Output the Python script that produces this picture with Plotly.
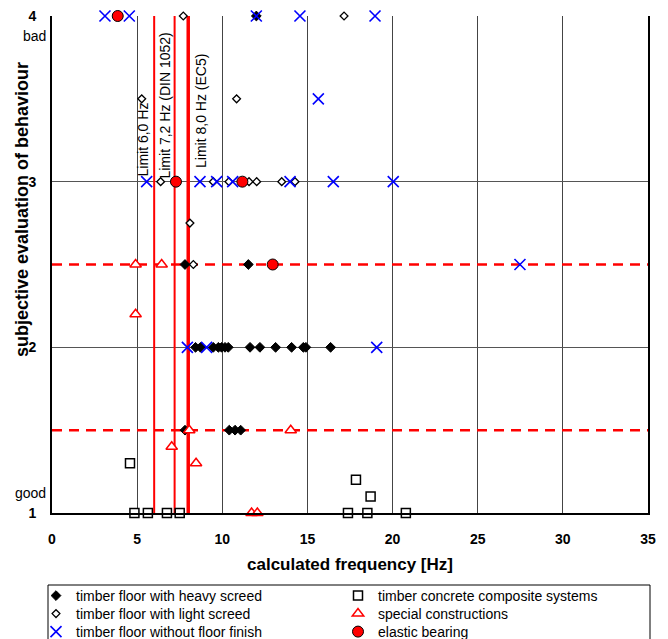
import plotly.graph_objects as go

# ---- data ----
heavy_x = [12.0, 7.81, 11.53, 8.43, 8.72, 9.47, 9.77, 9.96, 10.16, 10.35, 11.63, 12.21, 13.13, 14.07, 14.76, 14.91, 16.36, 7.81, 10.41, 10.75, 11.08]
heavy_y = [4, 2.5, 2.5, 2, 2, 2, 2, 2, 2, 2, 2, 2, 2, 2, 2, 2, 2, 1.5, 1.5, 1.5, 1.5]

light_x = [7.71, 17.15, 5.27, 10.84, 6.38, 9.47, 10.39, 11.57, 12.02, 13.49, 14.27, 8.1, 8.3]
light_y = [4, 4, 3.5, 3.5, 3, 3, 3, 3, 3, 3, 3, 2.75, 2.5]

nofinish_x = [3.11, 4.54, 12.0, 14.56, 18.97, 15.64, 5.56, 8.69, 9.67, 10.61, 13.98, 16.52, 20.04, 27.48, 7.95, 9.08, 19.07]
nofinish_y = [4, 4, 4, 4, 4, 3.5, 3, 3, 3, 3, 3, 3, 3, 2.5, 2, 2, 2]

tcc_x = [4.58, 4.84, 5.63, 6.75, 7.50, 17.38, 18.52, 20.78, 17.85, 18.71]
tcc_y = [1.3, 1, 1, 1, 1, 1, 1, 1, 1.2, 1.1]

special_x = [4.91, 6.44, 4.91, 8.06, 7.03, 8.46, 14.02, 11.72, 12.06]
special_y = [2.5, 2.5, 2.2, 1.5, 1.4, 1.3, 1.5, 1, 1]

elastic_x = [3.86, 7.28, 11.18, 12.96]
elastic_y = [4, 3, 3, 2.5]

limit_freqs = [6.0, 7.2, 8.0]
limit_widths = [2, 2, 3.5]
limit_labels = ["Limit 6,0 Hz", "Limit 7,2 Hz (DIN 1052)", "Limit 8,0 Hz (EC5)"]
limit_label_x = [5.35, 6.64, 8.79]
limit_label_y = [3.255, 3.46, 3.425]

threshold_y = [2.5, 1.5]

x_ticks = [0, 5, 10, 15, 20, 25, 30, 35]
y_ticks = [1, 2, 3, 4]

FONT = "Arial, Liberation Sans, sans-serif"

# plot-area pixel geometry (for paper-coordinate placement of extras)
PL, PR, PT, PB = 52, 648, 16, 513
PW, PH = PR - PL, PB - PT
def px_x(p):
    return (p - PL) / PW
def px_y(p):
    return (PB - p) / PH

# legend slots: left px of each column, centre px of each row
LEG_COL = [36, 338]
LEG_ROW = [596, 614, 632]

fig = go.Figure()

series = [
    ("timber floor with heavy screed", heavy_x, heavy_y,
     dict(symbol="diamond", size=7.5, color="black", line=dict(color="black", width=1)), 0, 0),
    ("timber floor with light screed", light_x, light_y,
     dict(symbol="diamond", size=6, color="white", line=dict(color="black", width=1.3)), 0, 1),
    ("timber floor without floor finish", nofinish_x, nofinish_y,
     dict(symbol="x-thin", size=11, color="blue", line=dict(color="blue", width=1.6)), 0, 2),
    ("timber concrete composite systems", tcc_x, tcc_y,
     dict(symbol="square", size=9, color="white", line=dict(color="black", width=1.5)), 1, 0),
    ("special constructions", special_x, special_y,
     dict(symbol="triangle-up", size=10, color="white", line=dict(color="red", width=1.5)), 1, 1),
    ("elastic bearing", elastic_x, elastic_y,
     dict(symbol="circle", size=11, color="red", line=dict(color="black", width=1)), 1, 2),
]

legends = {}
for i, (name, x, y, marker, col, row) in enumerate(series):
    lid = "legend" if i == 0 else f"legend{i + 1}"
    fig.add_trace(go.Scatter(x=x, y=y, mode="markers", name=name, marker=marker,
                             cliponaxis=False, legend=lid, hoverinfo="skip"))
    legends[lid] = dict(x=px_x(LEG_COL[col]), y=px_y(LEG_ROW[row]),
                        xanchor="left", yanchor="middle", orientation="v",
                        borderwidth=0, bgcolor="rgba(0,0,0,0)",
                        font=dict(family=FONT, size=14, color="black"),
                        itemsizing="trace")

shapes = []
for f, w in zip(limit_freqs, limit_widths):
    shapes.append(dict(type="line", xref="x", yref="y", x0=f, x1=f, y0=1, y1=4,
                       line=dict(color="red", width=w), layer="between"))
for ty in threshold_y:
    shapes.append(dict(type="line", xref="x", yref="y", x0=0, x1=35.3, y0=ty, y1=ty,
                       line=dict(color="red", width=2.5, dash="10px,7px"), layer="between"))
# legend frame around both legend columns
shapes.append(dict(type="rect", xref="paper", yref="paper",
                   x0=px_x(48), x1=px_x(650), y0=px_y(585), y1=px_y(642),
                   line=dict(color="black", width=1), fillcolor="rgba(0,0,0,0)", layer="above"))

annotations = []
for lab, lx, ly in zip(limit_labels, limit_label_x, limit_label_y):
    annotations.append(dict(text=lab, x=lx, y=ly, xref="x", yref="y", textangle=-90,
                            showarrow=False, xanchor="center", yanchor="middle",
                            font=dict(family=FONT, size=14, color="black")))
annotations.append(dict(text="bad", x=px_x(48), y=3.88, xref="paper", yref="y",
                        showarrow=False, xanchor="right", yanchor="middle",
                        font=dict(family=FONT, size=14, color="black")))
annotations.append(dict(text="good", x=px_x(48), y=1.121, xref="paper", yref="y",
                        showarrow=False, xanchor="right", yanchor="middle",
                        font=dict(family=FONT, size=14, color="black")))
annotations.append(dict(text="<b>subjective evaluation of behaviour</b>", x=px_x(22), y=px_y(210),
                        xref="paper", yref="paper", textangle=-90, showarrow=False,
                        xanchor="center", yanchor="middle",
                        font=dict(family=FONT, size=18, color="black")))

fig.update_layout(
    width=668, height=639,
    margin=dict(l=PL, r=668 - PR, t=PT, b=639 - PB, autoexpand=False),
    paper_bgcolor="white", plot_bgcolor="white",
    font=dict(family=FONT, size=14, color="black"),
    shapes=shapes, annotations=annotations,
    showlegend=True,
    xaxis=dict(range=[0, 35], tickvals=x_ticks,
               ticktext=[f"<b>{v}</b>" for v in x_ticks],
               showgrid=True, gridcolor="#444444", gridwidth=1,
               showline=True, linecolor="black", linewidth=2, mirror=False,
               zeroline=False, ticks="", ticklabelstandoff=12, automargin=False,
               title=dict(text="<b>calculated frequency [Hz]</b>", standoff=12,
                          font=dict(family=FONT, size=17))),
    yaxis=dict(range=[1, 4], tickvals=y_ticks,
               ticktext=[f"<b>{v}</b>" for v in y_ticks],
               showgrid=True, gridcolor="#555555", gridwidth=1,
               showline=True, linecolor="black", linewidth=2, mirror=True,
               zeroline=False, ticks="", ticklabelstandoff=11, automargin=False),
    **legends,
)

fig.write_html("out.html", config={"displayModeBar": False},
               post_script="document.body.style.margin='0px';")
